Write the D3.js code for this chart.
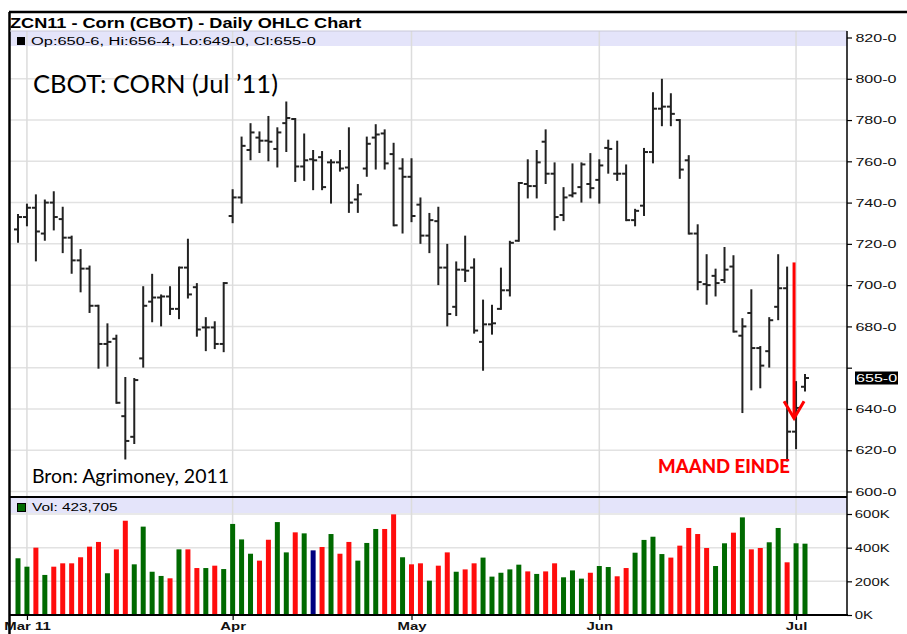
<!DOCTYPE html>
<html>
<head>
<meta charset="utf-8">
<script src="https://cdn.jsdelivr.net/npm/d3@7"></script>
<style>
body { margin: 0; background: #fff; }
svg { display: block; font-family: "Liberation Sans", Arial, sans-serif; }
</style>
</head>
<body>
<svg width="907" height="634"></svg>
<script>
// trading days, Feb 28 - Jul 5 2011
const dates = [
  "2011-02-28",
  "2011-03-01","2011-03-02","2011-03-03","2011-03-04","2011-03-07","2011-03-08","2011-03-09","2011-03-10","2011-03-11","2011-03-14","2011-03-15","2011-03-16","2011-03-17","2011-03-18","2011-03-21","2011-03-22","2011-03-23","2011-03-24","2011-03-25","2011-03-28","2011-03-29","2011-03-30","2011-03-31",
  "2011-04-01","2011-04-04","2011-04-05","2011-04-06","2011-04-07","2011-04-08","2011-04-11","2011-04-12","2011-04-13","2011-04-14","2011-04-15","2011-04-18","2011-04-19","2011-04-20","2011-04-21","2011-04-25","2011-04-26","2011-04-27","2011-04-28","2011-04-29",
  "2011-05-02","2011-05-03","2011-05-04","2011-05-05","2011-05-06","2011-05-09","2011-05-10","2011-05-11","2011-05-12","2011-05-13","2011-05-16","2011-05-17","2011-05-18","2011-05-19","2011-05-20","2011-05-23","2011-05-24","2011-05-25","2011-05-26","2011-05-27","2011-05-31",
  "2011-06-01","2011-06-02","2011-06-03","2011-06-06","2011-06-07","2011-06-08","2011-06-09","2011-06-10","2011-06-13","2011-06-14","2011-06-15","2011-06-16","2011-06-17","2011-06-20","2011-06-21","2011-06-22","2011-06-23","2011-06-24","2011-06-27","2011-06-28","2011-06-29","2011-06-30",
  "2011-07-01","2011-07-05"];

// cents per bushel
const opens = [727,733,737.5,725,740,732,723,712,708,690,671.5,674,636.5,626.5,664.5,692,694,694.5,688.5,708.5,699,679.5,679.5,671.5,
  733.5,742.5,765.5,771.5,770,766,778.5,780.5,757.5,761,762,759.5,759.5,757,741.5,756.5,771.5,773.5,763.5,756.5,
  752.5,739,724,731,708.5,689.5,707.5,708.5,672.5,681,688.5,697.5,721.5,749,748,769.5,754,734,743.5,747.5,749,
  751,766.5,754,754,731.5,738.5,764.5,785.5,786.5,780,760.5,725,700.5,704.5,702.5,709,675.5,686.5,669.5,668,689.5,698.5,
  629,650.75];
const highs = [734,739,743.5,741,745,737.5,723.5,717,709,690,681,675.5,655,654.5,699,705,695,699,708.5,722,700.5,684,682,701,
  746,771.5,778,774,781.5,776,788.5,780.5,773,765,764.5,760.5,765,776,748.5,771.5,777.5,775,768.5,761,
  761,742,734.5,737.5,719.5,711,723.5,712.5,692.5,690,708,721,749.5,760.5,765,775,759,747,758.5,759,763.5,
  760.5,770,769.5,758,736.5,766,793,799.5,792.5,780,762.5,729,714.5,707.5,718,714,683.5,697.5,670,684,714.5,708.5,
  653,656.5];
const lows = [721,729,712,722,727,716,706,697,687,660,661,643,616,623.5,660.5,682.5,680.5,686,684,694,675.5,668.5,669.5,668,
  730.5,740,761,764.5,760.5,757.5,765,750.5,751,746.5,746.5,740,755.5,735.5,735.5,753,756.5,756.5,729,725.5,
  731,720.5,716,700.5,680.5,685.5,702,677,659,676.5,688.5,695,721.5,742.5,742.5,749.5,727,731.5,743,740.5,742.5,
  740,754.5,751,731.5,729,734,759.5,777.5,777.5,752,725,698,691,695,701.5,677.5,638.5,649.5,650.5,660.5,683.5,615,
  621,649];
const closes = [733,737.5,726,740,733,723,712,708,690,671.5,672.5,643,624.5,654,690,694,694.5,688.5,708.5,695.5,678.5,679.5,671.5,701,
  742.5,767.5,774,770,769.5,774,781,757.5,760.5,760.5,747.5,759.5,756.5,740,744,768.5,773,759,729,752.5,
  733.5,724,731.5,708.5,686,707.5,707,678,681,681.5,697.5,720.5,749.5,748,759.5,754,733,742.5,744.5,758.5,747,
  758,766,754,731.5,736,764.5,785.5,786.5,783,756,725,701.5,700,701,707.5,677.5,680,669.5,661,683,698.5,629,
  640.5,655];
// volume in thousands
const volumes = [337,287,400,238,287,307,307,343,406,434,248,390,560,301,525,257,232,218,390,390,279,279,293,273,
  541,449,364,323,447,552,372,491,485,384,404,481,364,434,323,428,511,511,598,343,
  301,307,204,293,372,257,271,307,341,228,251,271,299,259,244,259,307,224,265,216,251,
  291,285,230,279,370,446,465,362,341,412,517,481,398,291,426,489,580,390,398,432,517,313,
  426,423.705];

const priceTicks = [600,620,640,660,680,700,720,740,760,780,800,820];
const volTicks = [0,200,400,600];
const monthTicks = ["2011-03-01","2011-04-01","2011-05-02","2011-06-01","2011-07-01"];
const monthLabels = ["Mar 11","Apr","May","Jun","Jul"];
const lastClose = 655;
const chartTitle = "ZCN11 - Corn (CBOT) - Daily OHLC Chart";
const infoText = "Op:650-6, Hi:656-4, Lo:649-0, Cl:655-0";
const volText = "Vol: 423,705";
// arrow on the month-end bar (price from/to)
const arrowFrom = 711, arrowTo = 635.5;

const svg = d3.select("svg");
const left = 10, right = 847;
const priceTop = 31, divider = 497, volBottom = 615;
const sx = 1.3;   // the source chart is stretched horizontally

const x = d3.scalePoint().domain(dates).range([18, 805]);
const y = d3.scaleLinear().domain([600, 820]).range([491.5, 37.5]);
const yv = d3.scaleLinear().domain([0, 600]).range([volBottom, 514]);

const bars = dates.map((d, i) => ({
  date: d, o: opens[i], h: highs[i], l: lows[i], c: closes[i], v: volumes[i],
  dir: i === 0 ? 1 : Math.sign(closes[i] - closes[i - 1])
}));

function stretchText(g, px, py, s, str) {
  return g.append("text").attr("transform", `translate(${px},${py}) scale(${s},1)`).text(str);
}

// grid
svg.append("g").selectAll("line").data(priceTicks).enter().append("line")
  .attr("x1", left).attr("x2", right).attr("y1", d => y(d)).attr("y2", d => y(d))
  .attr("stroke", "#e2e2e2").attr("stroke-width", 1.5);
svg.append("g").selectAll("line").data(volTicks.slice(1)).enter().append("line")
  .attr("x1", left).attr("x2", right).attr("y1", d => yv(d)).attr("y2", d => yv(d))
  .attr("stroke", "#e2e2e2").attr("stroke-width", 1.5);

// lavender info strips
svg.append("rect").attr("x", left).attr("y", priceTop).attr("width", right - left).attr("height", 15).attr("fill", "#e4e4fa");
svg.append("rect").attr("x", left).attr("y", divider + 1).attr("width", right - left).attr("height", 15).attr("fill", "#e4e4fa");

svg.append("g").selectAll("line").data(monthTicks).enter().append("line")
  .attr("x1", d => x(d)).attr("x2", d => x(d)).attr("y1", priceTop).attr("y2", volBottom)
  .attr("stroke", "#dcdcdc").attr("stroke-width", 1.5);

// OHLC
const ohlc = svg.append("g").attr("stroke", "#222").attr("stroke-width", 2);
const bar = ohlc.selectAll("g").data(bars).enter().append("g");
bar.append("line").attr("x1", d => x(d.date)).attr("x2", d => x(d.date))
  .attr("y1", d => y(d.h) - 1).attr("y2", d => y(d.l) + 1);
bar.append("line").attr("x1", d => x(d.date) - 4).attr("x2", d => x(d.date))
  .attr("y1", d => y(d.o)).attr("y2", d => y(d.o));
bar.append("line").attr("x1", d => x(d.date)).attr("x2", d => x(d.date) + 4)
  .attr("y1", d => y(d.c)).attr("y2", d => y(d.c));

// volume
const volColor = dir => dir > 0 ? "#006a00" : dir < 0 ? "#ff0d0d" : "#000080";
svg.append("g").selectAll("rect").data(bars).enter().append("rect")
  .attr("x", d => x(d.date) - 2.5).attr("width", 5)
  .attr("y", d => yv(d.v)).attr("height", d => volBottom - yv(d.v))
  .attr("fill", d => volColor(d.dir));

// frame
svg.append("line").attr("x1", 9).attr("x2", 907).attr("y1", 12).attr("y2", 12).attr("stroke", "#000").attr("stroke-width", 2.5);
svg.append("line").attr("x1", 9.5).attr("x2", 9.5).attr("y1", 12).attr("y2", 634).attr("stroke", "#000").attr("stroke-width", 2.5);
svg.append("line").attr("x1", left).attr("x2", right).attr("y1", priceTop).attr("y2", priceTop).attr("stroke", "#c8c8d8").attr("stroke-width", 1);
svg.append("line").attr("x1", right).attr("x2", right).attr("y1", priceTop).attr("y2", volBottom).attr("stroke", "#000").attr("stroke-width", 1.5);
svg.append("line").attr("x1", left).attr("x2", right).attr("y1", divider).attr("y2", divider).attr("stroke", "#000").attr("stroke-width", 2);
svg.append("line").attr("x1", left).attr("x2", right + 1).attr("y1", volBottom).attr("y2", volBottom).attr("stroke", "#000").attr("stroke-width", 2);

// axes
const priceAxis = svg.append("g").attr("transform", `translate(${right},0)`)
  .call(d3.axisRight(y).tickValues(priceTicks).tickSize(5).tickPadding(1)
    .tickFormat(d => d === 660 ? "" : d + "-0"));
const volAxis = svg.append("g").attr("transform", `translate(${right},0)`)
  .call(d3.axisRight(yv).tickValues(volTicks).tickSize(5).tickPadding(1).tickFormat(d => d + "K"));
const timeAxis = svg.append("g").attr("transform", `translate(0,${volBottom})`)
  .call(d3.axisBottom(x).tickValues(monthTicks).tickSize(5).tickPadding(2)
    .tickFormat((d, i) => monthLabels[i]));
[priceAxis, volAxis, timeAxis].forEach(a => {
  a.select(".domain").remove();
  a.selectAll("line").attr("stroke", "#000").attr("stroke-width", 1.2);
  a.selectAll("text").attr("transform", `scale(${sx},1)`)
    .attr("font-size", 11.5).attr("font-family", "'Liberation Sans', Arial, sans-serif").attr("fill", "#111");
});
priceAxis.selectAll("text").attr("transform", "scale(1.4,1)");
timeAxis.selectAll("text").attr("font-weight", "bold");

// last price marker
svg.append("rect").attr("x", 855).attr("y", y(lastClose) - 6.5).attr("width", 43).attr("height", 13).attr("fill", "#000");
stretchText(svg, 856, y(lastClose) + 4, 1.4, lastClose + "-0").attr("fill", "#fff").attr("font-size", 11.5);

// headers
stretchText(svg, 10, 28, 1.21, chartTitle).attr("font-weight", "bold").attr("font-size", 15);
svg.append("rect").attr("x", 17).attr("y", 37).attr("width", 8).attr("height", 8).attr("fill", "#000");
stretchText(svg, 31, 44.5, 1.43, infoText).attr("font-size", 11.5);
svg.append("rect").attr("x", 17.5).attr("y", 503.5).attr("width", 8).attr("height", 8)
  .attr("fill", "#006a00").attr("stroke", "#000").attr("stroke-width", 1);
stretchText(svg, 32, 511, 1.34, volText).attr("font-size", 11.5);

// annotations
svg.append("text").attr("x", 33).attr("y", 93).attr("font-family", "Lato, 'Open Sans', sans-serif")
  .attr("font-size", 25).attr("textLength", 245).attr("lengthAdjust", "spacingAndGlyphs")
  .text("CBOT: CORN (Jul \u201911)");
svg.append("text").attr("x", 32).attr("y", 483).attr("font-family", "Lato, 'Open Sans', sans-serif")
  .attr("font-size", 20).attr("textLength", 197).attr("lengthAdjust", "spacingAndGlyphs")
  .text("Bron: Agrimoney, 2011");
svg.append("text").attr("x", 658).attr("y", 473).attr("font-family", "Lato, 'Open Sans', sans-serif")
  .attr("font-size", 19).attr("font-weight", 900).attr("fill", "#ff0000")
  .attr("textLength", 132).attr("lengthAdjust", "spacingAndGlyphs")
  .text("MAAND EINDE");

const ax = x(dates[87]) - 2;
svg.append("line").attr("x1", ax).attr("x2", ax).attr("y1", y(arrowFrom)).attr("y2", y(arrowTo))
  .attr("stroke", "#ff0000").attr("stroke-width", 3);
svg.append("path")
  .attr("d", d3.line()([[ax - 10, y(arrowTo) - 17], [ax, y(arrowTo)], [ax + 10, y(arrowTo) - 17]]))
  .attr("fill", "none").attr("stroke", "#ff0000").attr("stroke-width", 3);
</script>
</body>
</html>
